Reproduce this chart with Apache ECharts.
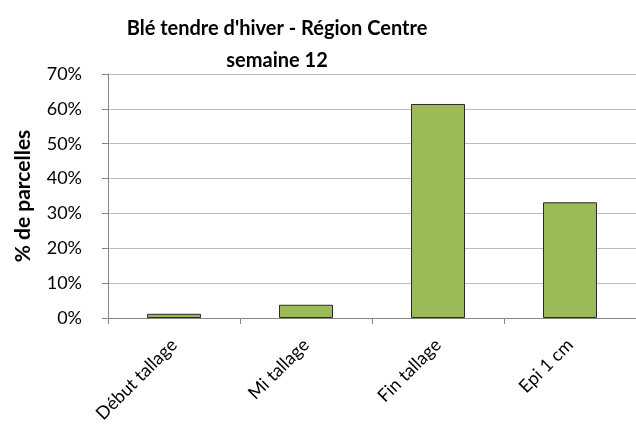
<!DOCTYPE html>
<html>
<head>
<meta charset="utf-8">
<script src="https://cdn.jsdelivr.net/npm/echarts@6/dist/echarts.min.js"></script>
<style>
  html, body { margin: 0; padding: 0; background: #fff; }
  #chart { width: 636px; height: 428px; }
</style>
</head>
<body>
<div id="chart"></div>
<script>
// stades de développement
const categories = ['Début tallage', 'Mi tallage', 'Fin tallage', 'Epi 1 cm'];
// % de parcelles
const values = [1.2, 3.8, 61.4, 33.2];
const titleLines = ["Blé tendre d'hiver - Région Centre", 'semaine 12'];
const yName = '% de parcelles';

const font = 'Lato, "Open Sans", sans-serif';
const titleStyle = {
  fontFamily: font,
  fontSize: 20,
  fontWeight: 'bold',
  color: '#000'
};

const myChart = echarts.init(document.getElementById('chart'));
const option = {
  backgroundColor: '#fff',
  animation: false,
  title: [
    { text: titleLines[0], left: 272, top: 14, textAlign: 'center', textStyle: titleStyle },
    { text: titleLines[1], left: 272, top: 46, textAlign: 'center', textStyle: titleStyle }
  ],
  grid: {
    left: 108,
    top: 74,
    width: 538,
    height: 244
  },
  xAxis: {
    type: 'category',
    data: categories,
    axisLine: { lineStyle: { color: '#868686', width: 1 } },
    axisTick: { show: true, length: 6, alignWithLabel: false, lineStyle: { color: '#868686' } },
    axisLabel: {
      rotate: 45,
      margin: 24,
      fontFamily: font,
      fontSize: 18,
      color: '#000'
    }
  },
  yAxis: {
    type: 'value',
    min: 0,
    max: 70,
    interval: 10,
    name: yName,
    nameLocation: 'middle',
    nameGap: 74,
    nameTextStyle: {
      fontFamily: font,
      fontSize: 21,
      fontWeight: 'bold',
      color: '#000'
    },
    axisLine: { show: true, lineStyle: { color: '#868686' } },
    axisTick: { show: true, length: 6, lineStyle: { color: '#868686' } },
    splitLine: { lineStyle: { color: '#BEBEBE', width: 1 } },
    axisLabel: {
      formatter: '{value}%',
      margin: 26,
      fontFamily: font,
      fontSize: 18,
      color: '#000'
    }
  },
  series: [
    {
      type: 'bar',
      data: values,
      barWidth: 54,
      itemStyle: {
        color: '#9BBB59',
        borderColor: '#2b2b2b',
        borderWidth: 1
      }
    }
  ]
};
myChart.setOption(option);
</script>
</body>
</html>
